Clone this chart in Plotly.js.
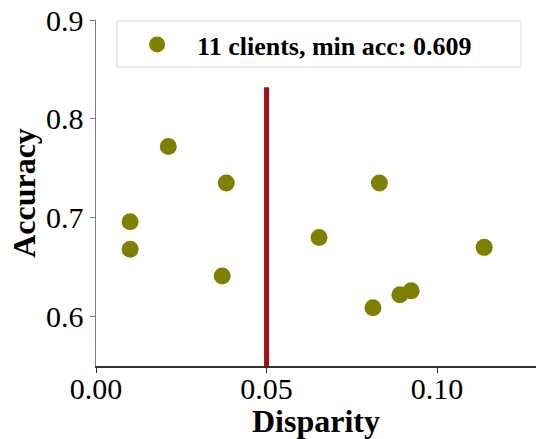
<!DOCTYPE html>
<html>
<head>
<meta charset="utf-8">
<script src="https://cdn.plot.ly/plotly-3.0.1.min.js"></script>
<style>html,body{margin:0;padding:0;background:#fff;}#chart{width:537px;height:439px;}</style>
</head>
<body>
<div id="chart"></div>
<script>
// Client disparity vs accuracy
const disparity = [0.0100, 0.0100, 0.0212, 0.0382, 0.0370, 0.0654, 0.0831, 0.0812, 0.0891, 0.0924, 0.1138];
const accuracy  = [0.696, 0.668, 0.772, 0.735, 0.641, 0.680, 0.735, 0.609, 0.622, 0.626, 0.670];
const seriesName = "11 clients, min acc: 0.609";
const thresholdX = [0.05, 0.05];
const thresholdY = [0.55, 0.832];
const xTickVals = [0.00, 0.05, 0.10];
const xTickText = ["0.00", "0.05", "0.10"];
const yTickVals = [0.6, 0.7, 0.8, 0.9];
const yTickText = ["0.6", "0.7", "0.8", "0.9"];

const serif = "Liberation Serif, Times New Roman, serif";

const traces = [
  {
    x: thresholdX, y: thresholdY, type: "scatter", mode: "lines",
    line: {color: "#a50f1e", width: 5}, showlegend: false, hoverinfo: "skip"
  },
  {
    x: disparity, y: accuracy, type: "scatter", mode: "markers", name: seriesName,
    marker: {color: "#808000", size: 17}
  }
];

const layout = {
  width: 537, height: 439,
  margin: {l: 96, r: 1, t: 20, b: 73},
  paper_bgcolor: "#fff", plot_bgcolor: "#fff",
  font: {family: serif, color: "#000"},
  showlegend: true,
  legend: {
    x: 0.048, y: 0.997, xanchor: "left", yanchor: "top",
    borderwidth: 0, bgcolor: "rgba(0,0,0,0)",
    font: {family: serif, size: 26, color: "#000", weight: "bold"},
    itemwidth: 70
  },
  shapes: [{
    type: "rect", xref: "paper", yref: "paper",
    x0: 0.048, x1: 0.966, y0: 0.864, y1: 0.997,
    line: {color: "#d9d9d9", width: 1}, fillcolor: "rgba(255,255,255,0.8)", layer: "above"
  }],
  xaxis: {
    range: [0, 0.129], tickvals: xTickVals, ticktext: xTickText,
    showgrid: false, zeroline: false, showline: true, linecolor: "#333", linewidth: 1.5,
    ticks: "outside", ticklen: 5, tickcolor: "#333", ticklabelstandoff: -10,
    tickfont: {family: serif, size: 30, color: "#000"},
    title: {text: "<b>Disparity</b>", font: {family: serif, size: 32, color: "#000"}, standoff: 14}
  },
  yaxis: {
    range: [0.55, 0.9], tickvals: yTickVals, ticktext: yTickText,
    showgrid: false, zeroline: false, showline: true, linecolor: "#808080", linewidth: 1.5,
    ticks: "outside", ticklen: 5, tickcolor: "#808080",
    tickfont: {family: serif, size: 30, color: "#000"},
    title: {text: "<b>Accuracy</b>", font: {family: serif, size: 32, color: "#000"}, standoff: 1}
  }
};

Plotly.newPlot("chart", traces, layout, {displayModeBar: false, staticPlot: true});
</script>
</body>
</html>
